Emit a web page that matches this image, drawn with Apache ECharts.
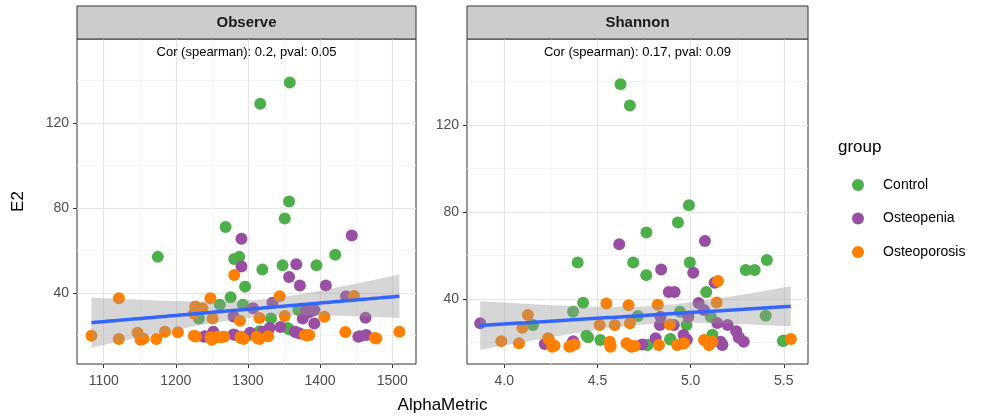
<!DOCTYPE html>
<html>
<head>
<meta charset="utf-8">
<script src="https://cdn.jsdelivr.net/npm/echarts@6/dist/echarts.min.js"></script>
<style>
  html, body { margin: 0; padding: 0; background: #fff; }
  #chart { width: 989px; height: 419px; }
</style>
</head>
<body>
<div id="chart"></div>
<script>
// ---------- data ----------
const groups = ['Control', 'Osteopenia', 'Osteoporosis'];
const groupColors = ['#4DAF4A', '#984EA3', '#FF7F00'];

const observeControl = [
  [1358,139],[1317,129],[1357,83],[1351,75],[1269,71],[1175,57],[1281,56],[1288,57],
  [1320,51],[1348,53],[1395,53],[1421,58],[1296,43],[1276,38],[1261,34.5],[1293,34.5],
  [1370,32],[1332,28],[1316,22],[1355,23.5],[1232,28],[1318,21],[1357,23],[1300,20]
];
const observeOsteopenia = [
  [1444,67],[1291,65.5],[1291,52.5],[1367,53.5],[1357,47.5],[1372,43.5],[1408,43.5],
  [1436,38.5],[1334,35.4],[1307,32.8],[1280,29],[1381,32],[1392,32],[1385,31],[1376,28],
  [1392,25.7],[1345,24],[1463,28.4],[1239,19.4],[1252,21.8],[1280,20.5],[1303,21.3],
  [1321,21.8],[1365,21.8],[1372,21],[1330,23.5],[1453,19.4],[1464,20.2],
  [1240,19.6],[1282,20.3],[1322,21.5],[1367,21.5],[1455,19.6]
];
const observeOsteoporosis = [
  [1281,48.5],[1121,37.5],[1248,37.5],[1344,38.5],[1447,38.6],[1227,33.6],[1237,32.8],
  [1225,30.4],[1251,28],[1289,27],[1316,28.2],[1351,29.2],[1406,28.8],[1083,19.9],
  [1121,18.4],[1147,21.3],[1151,18],[1173,18.4],[1185,21.8],[1203,21.5],[1225,19.9],
  [1248,19.2],[1258,19.4],[1267,19.4],[1250,18],[1290,19.4],[1294,18.4],[1312,19.4],
  [1316,18.4],[1328,19.6],[1379,20.3],[1385,20.2],[1435,21.7],[1476,18.8],[1510,21.8],
  [1250,19],[1262,19.2],[1290,18.8],[1313,18.8],[1382,20],[1228,19.5],[1155,18.5],[1478,18.6]
];

const shannonControl = [
  [4.624,138.6],[4.674,128.9],[4.991,83.1],[4.932,75.2],[4.763,70.6],[4.394,56.8],
  [4.692,56.8],[4.996,56.8],[4.762,51.0],[5.296,53.3],[5.344,53.3],[5.409,57.9],
  [5.084,43.3],[4.423,38.3],[4.369,34.2],[4.717,32.2],[4.943,34.2],[4.154,28.1],
  [4.441,23.2],[4.516,21.2],[4.978,28.1],[5.403,32.3],[5.108,31.9],[5.495,20.8],
  [4.767,18.9],[4.892,21.7],[5.117,23.6],[4.77,19],[4.45,22.5],[4.89,21.5],[5.5,21]
];
const shannonOsteopenia = [
  [4.617,65.2],[5.077,66.7],[4.842,53.6],[5.014,52.1],[5.129,47.5],[4.883,43.3],
  [4.914,43.3],[5.043,38.2],[5.072,35.0],[4.839,31.9],[4.988,32.0],[4.835,28.1],
  [4.910,28.1],[5.143,29.0],[5.199,28.1],[5.245,25.2],[5.258,22.5],[5.285,20.4],
  [4.962,23.5],[4.975,21.5],[5.161,20.4],[5.170,18.9],[4.740,19.2],[4.812,22.0],
  [4.217,19.4],[4.369,20.3],[3.871,28.9],[5.17,19],[4.37,20.6],[4.98,21.3],[5.26,22.3]
];
const shannonOsteoporosis = [
  [4.548,38.0],[4.667,37.2],[4.824,37.4],[5.140,38.4],[5.147,48.3],[4.127,32.7],
  [4.097,26.8],[4.512,28.1],[4.593,28.1],[4.674,28.9],[4.889,28.3],[3.984,20.7],
  [4.079,19.7],[4.235,22.0],[4.258,18.1],[4.351,18.1],[4.378,19.2],[4.566,20.4],
  [4.570,18.1],[4.656,19.7],[4.683,18.1],[4.830,18.9],[4.928,18.9],[4.964,19.7],
  [5.072,21.2],[5.098,18.9],[5.117,20.4],[5.538,21.7],[4.700,18.5],
  [4.24,21.5],[4.27,18.6],[4.36,18.6],[5.1,19],[4.96,19.5],[4.68,18.3],[4.57,18.5],[4.35,18.3]
];

const observeTicks = [1100, 1200, 1300, 1400, 1500];
const observeMinor = [1150, 1250, 1350, 1450];
const shannonTicks = [4.0, 4.5, 5.0, 5.5];
const shannonMinor = [4.25, 4.75, 5.25];
const e2Ticks = [40, 80, 120];
const e2Minor = [20, 60, 100, 140];

const panelTitles = ['Observe', 'Shannon'];
const panelNotes = ['Cor (spearman): 0.2, pval: 0.05', 'Cor (spearman): 0.17, pval: 0.09'];
const xRanges = [[1063, 1533], [3.80, 5.63]];
const yRanges = [[6.6, 159.5], [10.2, 159.4]];

// ---------- linear fit with 95% CI (geom_smooth(method = "lm")) ----------
function lmBand(points, steps) {
  const n = points.length;
  let mx = 0, my = 0;
  points.forEach(p => { mx += p[0]; my += p[1]; });
  mx /= n; my /= n;
  let sxx = 0, sxy = 0;
  points.forEach(p => { sxx += (p[0]-mx)*(p[0]-mx); sxy += (p[0]-mx)*(p[1]-my); });
  const b = sxy / sxx, a = my - b * mx;
  let sse = 0;
  points.forEach(p => { const r = p[1] - (a + b*p[0]); sse += r*r; });
  const s2 = sse / (n - 2);
  const t = 1.98;
  const xs = points.map(p => p[0]);
  const x0 = Math.min(...xs), x1 = Math.max(...xs);
  const line = [], band = [];
  for (let i = 0; i <= steps; i++) {
    const x = x0 + (x1 - x0) * i / steps;
    const y = a + b * x;
    const se = Math.sqrt(s2 * (1/n + (x-mx)*(x-mx)/sxx));
    line.push([x, y]);
    band.push([x, y - t*se, y + t*se]);
  }
  return { line, band };
}

const panels = [
  [observeControl, observeOsteopenia, observeOsteoporosis],
  [shannonControl, shannonOsteopenia, shannonOsteoporosis]
];
const fits = panels.map(p => lmBand([].concat(...p), 80));

// ---------- layout ----------
const gridBoxes = [
  { left: 77, top: 39, width: 339, height: 325 },
  { left: 467, top: 39, width: 341, height: 325 }
];
const FONT = 'Liberation Sans, Arial, sans-serif';
const tickValues = [observeTicks, shannonTicks];
const minorValues = [observeMinor, shannonMinor];

const grid = gridBoxes.map(g => ({
  left: g.left, top: g.top, width: g.width, height: g.height,
  show: true, backgroundColor: '#fff', borderColor: '#333', borderWidth: 1, containLabel: false
}));

const xAxis = [], yAxis = [];
for (let i = 0; i < 2; i++) {
  xAxis.push({
    type: 'value', gridIndex: i, min: xRanges[i][0], max: xRanges[i][1],
    axisLine: { show: false },
    axisTick: { show: true, length: 4, inside: false, customValues: tickValues[i], lineStyle: { color: '#333', width: 1 } },
    axisLabel: { customValues: tickValues[i], color: '#4D4D4D', fontSize: 14, fontFamily: FONT, margin: 10,
      formatter: v => i === 1 ? Number(v).toFixed(1) : String(v) },
    splitLine: { show: true, lineStyle: { color: '#E6E6E6', width: 1.2 } }
  });
  yAxis.push({
    type: 'value', gridIndex: i, min: yRanges[i][0], max: yRanges[i][1],
    name: i === 0 ? 'E2' : '', nameLocation: 'middle', nameGap: 50,
    nameTextStyle: { color: '#000', fontSize: 17, fontFamily: FONT },
    axisLine: { show: false },
    axisTick: { show: true, length: 4, inside: false, customValues: e2Ticks, lineStyle: { color: '#333', width: 1 } },
    axisLabel: { customValues: e2Ticks, color: '#4D4D4D', fontSize: 14, fontFamily: FONT, margin: 8 },
    splitLine: { show: true, lineStyle: { color: '#E6E6E6', width: 1.2 } }
  });
}
// minor grid axes
for (let i = 0; i < 2; i++) {
  xAxis.push({
    type: 'value', gridIndex: i, min: xRanges[i][0], max: xRanges[i][1],
    axisLine: { show: false }, axisLabel: { show: false },
    axisTick: { show: false, customValues: minorValues[i] },
    splitLine: { show: true, lineStyle: { color: '#F2F2F2', width: 0.8 } }
  });
  yAxis.push({
    type: 'value', gridIndex: i, min: yRanges[i][0], max: yRanges[i][1],
    axisLine: { show: false }, axisLabel: { show: false },
    axisTick: { show: false, customValues: e2Minor },
    splitLine: { show: true, lineStyle: { color: '#F2F2F2', width: 0.8 } }
  });
}

const series = [];
for (let i = 0; i < 2; i++) {
  groups.forEach((g, k) => {
    series.push({
      type: 'scatter', name: g, xAxisIndex: i, yAxisIndex: i,
      data: panels[i][k], symbolSize: 12, z: 2,
      itemStyle: { color: groupColors[k], opacity: 1 }
    });
  });
  const band = fits[i].band;
  series.push({
    type: 'custom', xAxisIndex: i, yAxisIndex: i, z: 3, silent: true,
    data: band,
    renderItem: (params, api) => {
      if (params.dataIndex !== 0) return null;
      const top = band.map(d => api.coord([d[0], d[2]]));
      const bottom = band.map(d => api.coord([d[0], d[1]])).reverse();
      return { type: 'polygon', shape: { points: top.concat(bottom) },
        style: { fill: 'rgba(153,153,153,0.4)', stroke: null } };
    }
  });
  series.push({
    type: 'line', xAxisIndex: i, yAxisIndex: i, z: 4, silent: true,
    data: fits[i].line, showSymbol: false, symbol: 'none',
    lineStyle: { color: '#3366FF', width: 3.5 }
  });
}

const graphic = [];
gridBoxes.forEach((g, i) => {
  graphic.push({ type: 'rect', shape: { x: g.left, y: 6, width: g.width, height: 33 },
    style: { fill: '#CCCCCC', stroke: '#333', lineWidth: 1 }, z: 10 });
  graphic.push({ type: 'text', x: g.left + g.width/2, y: 22.5, z: 11,
    style: { text: panelTitles[i], fill: '#1A1A1A', font: 'bold 15px ' + FONT, align: 'center', verticalAlign: 'middle' } });
  graphic.push({ type: 'text', x: g.left + g.width/2, y: 52, z: 11,
    style: { text: panelNotes[i], fill: '#000', font: '13px ' + FONT, align: 'center', verticalAlign: 'middle' } });
});
graphic.push({ type: 'text', x: (77 + 808) / 2, y: 405, z: 11,
  style: { text: 'AlphaMetric', fill: '#000', font: '17px ' + FONT, align: 'center', verticalAlign: 'middle' } });
graphic.push({ type: 'text', x: 838, y: 147, z: 11,
  style: { text: 'group', fill: '#000', font: '17px ' + FONT, align: 'left', verticalAlign: 'middle' } });

const chart = echarts.init(document.getElementById('chart'), null, { renderer: 'canvas' });
chart.setOption({
  animation: false,
  backgroundColor: '#fff',
  grid, xAxis, yAxis, series, graphic,
  legend: {
    data: groups, orient: 'vertical', left: 847, top: 173,
    icon: 'circle', itemWidth: 12, itemHeight: 12, itemGap: 19.5,
    textStyle: { color: '#000', fontSize: 14, fontFamily: FONT, padding: [0, 0, 0, 14] },
    selectedMode: false
  }
});
</script>
</body>
</html>
